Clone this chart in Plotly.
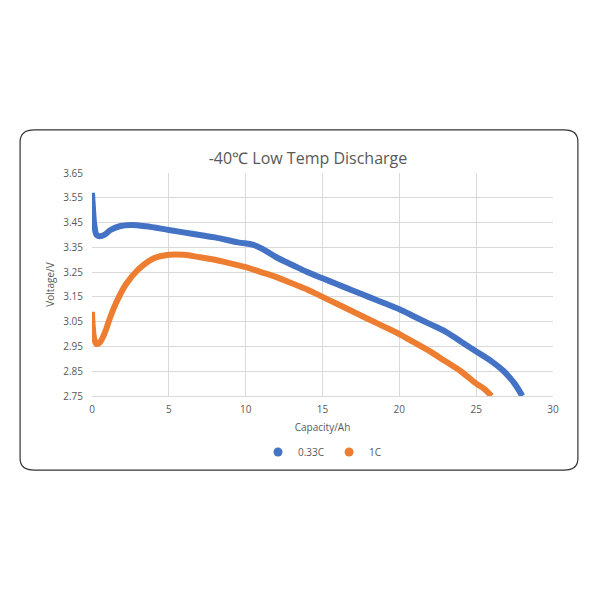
import plotly.graph_objects as go

# capacity (Ah) / voltage (V)
cap_033c = [0, 0.05, 0.15, 0.3, 0.5, 0.8, 1.2, 1.8, 2.5, 3.5, 5, 6.5, 8, 9.5, 10.5, 11.2, 12, 13, 14, 15, 16, 17, 18, 19, 20, 21, 22, 23, 24, 25, 26, 26.8, 27.5, 28]
volt_033c = [3.57, 3.52, 3.44, 3.40, 3.395, 3.40, 3.42, 3.435, 3.44, 3.435, 3.42, 3.405, 3.39, 3.37, 3.36, 3.34, 3.31, 3.28, 3.25, 3.225, 3.20, 3.175, 3.15, 3.125, 3.10, 3.07, 3.04, 3.01, 2.97, 2.93, 2.89, 2.85, 2.80, 2.75]

cap_1c = [0, 0.05, 0.15, 0.3, 0.5, 0.8, 1.2, 1.6, 2.2, 3.0, 4.0, 5, 6, 7, 8, 9, 10, 11, 12, 13, 14, 15, 16, 17, 18, 19, 20, 21, 22, 23, 24, 25, 25.5, 26]
volt_1c = [3.09, 3.03, 2.98, 2.96, 2.965, 3.00, 3.07, 3.13, 3.20, 3.26, 3.305, 3.32, 3.32, 3.31, 3.30, 3.285, 3.27, 3.25, 3.23, 3.205, 3.18, 3.15, 3.12, 3.09, 3.06, 3.03, 3.00, 2.965, 2.93, 2.89, 2.85, 2.80, 2.78, 2.75]

x_ticks = [0, 5, 10, 15, 20, 25, 30]
y_ticks = [2.75, 2.85, 2.95, 3.05, 3.15, 3.25, 3.35, 3.45, 3.55, 3.65]

series = [('0.33C', cap_033c, volt_033c, '#4472C4'), ('1C', cap_1c, volt_1c, '#ED7D31')]

fig = go.Figure()
for name, xs, ys, color in series:
    fig.add_trace(go.Scatter(x=xs, y=ys, mode='lines', name=name, showlegend=False,
                             line=dict(color=color, width=6, shape='spline')))
# legend entries drawn as round markers like the original
for name, xs, ys, color in series:
    fig.add_trace(go.Scatter(x=[None], y=[None], mode='markers', name=name,
                             marker=dict(color=color, size=9, symbol='circle')))

# rounded frame around the chart
fig.add_shape(type='path', xref='paper', yref='paper', layer='below',
              path='M -0.125,-0.332 L 1.024,-0.332 Q 1.054,-0.332 1.054,-0.28 L 1.054,1.14 Q 1.054,1.193 1.024,1.193 '
                   'L -0.125,1.193 Q -0.156,1.193 -0.156,1.14 L -0.156,-0.28 Q -0.156,-0.332 -0.125,-0.332 Z',
              line=dict(color='#333333', width=1.2))

fig.update_layout(
    width=600, height=600,
    margin=dict(l=84, r=55, t=165, b=212),
    paper_bgcolor='white', plot_bgcolor='white',
    font=dict(family='Open Sans', color='#595959', size=10),
    title=dict(text='-40℃ Low Temp Discharge', x=0.5, xanchor='center', y=0.75, yanchor='middle',
               font=dict(size=16, color='#595959')),
    legend=dict(orientation='h', x=0.5, xanchor='center', y=-0.251, yanchor='middle',
                font=dict(size=10), itemwidth=30),
)
fig.update_xaxes(range=[0, 30], tickvals=x_ticks, showgrid=True, gridcolor='#D9D9D9',
                 zeroline=False, showline=True, linecolor='#D9D9D9', ticks='', ticklabelstandoff=4,
                 title=dict(text='Capacity/Ah', font=dict(size=10), standoff=8))
fig.update_yaxes(range=[2.75, 3.65], tickvals=y_ticks, tickformat='.2f', showgrid=True,
                 gridcolor='#D9D9D9', zeroline=False, showline=False, ticks='', ticklabelstandoff=8,
                 title=dict(text='Voltage/V', font=dict(size=10), standoff=6))

fig.write_html("out.html")
